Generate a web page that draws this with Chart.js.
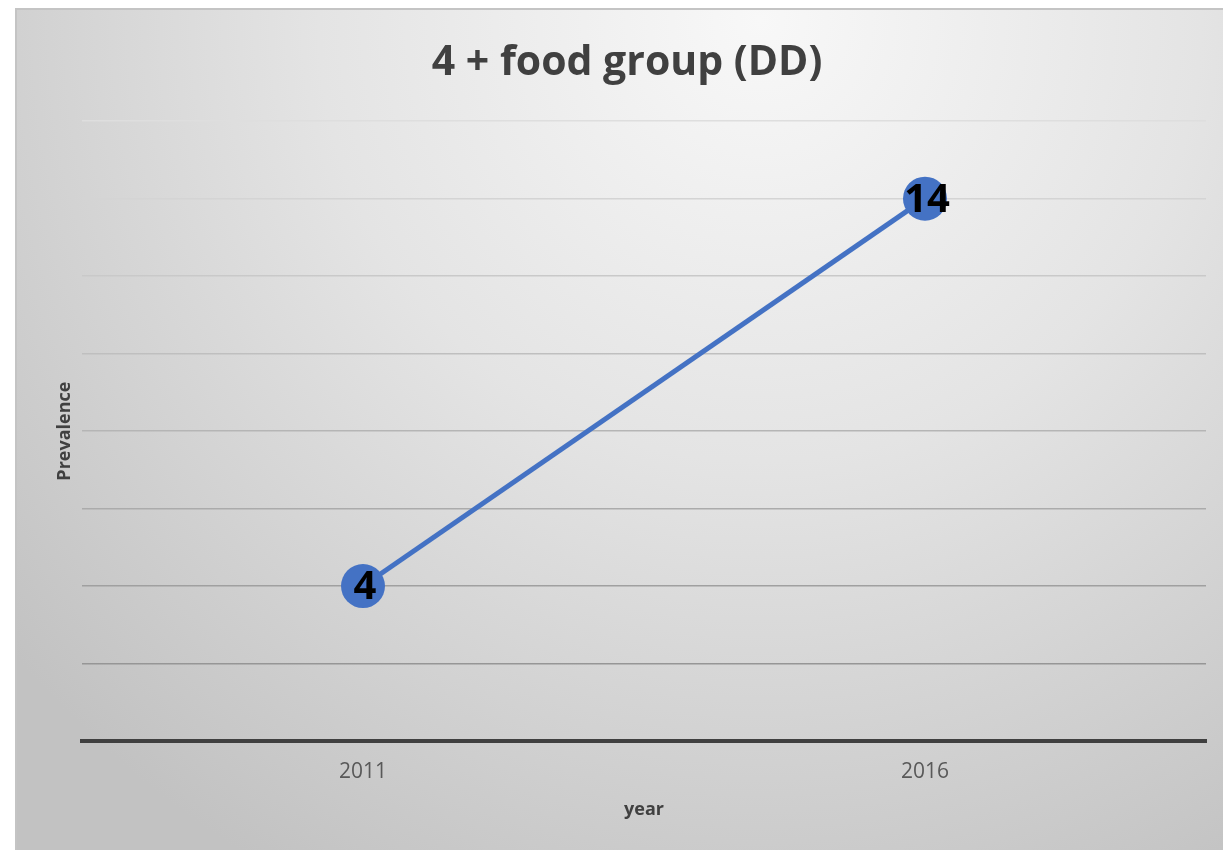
<!DOCTYPE html>
<html>
<head>
<meta charset="utf-8">
<title>4 + food group (DD)</title>
<script src="https://cdn.jsdelivr.net/npm/chart.js@4/dist/chart.umd.min.js"></script>
<style>
  html, body { margin: 0; padding: 0; background: #ffffff; }
  #wrap { position: relative; width: 1223px; height: 850px; }
</style>
</head>
<body>
<div id="wrap"><canvas id="chart" width="1223" height="850"></canvas></div>
<script>
// Chart data
const years = ['2011', '2016'];
const prevalence = [4, 14];
const yTicks = [0, 2, 4, 6, 8, 10, 12, 14, 16];

const chartTitle = '4 + food group (DD)';
const xTitle = 'year';
const yTitle = 'Prevalence';

const BLUE = '#4472C4';
const FONT = "'Open Sans', 'Liberation Sans', sans-serif";

// Soft grey radial backdrop inside a thin frame
const backdrop = {
  id: 'backdrop',
  beforeDraw(chart) {
    const { ctx, width, height } = chart;
    ctx.save();
    ctx.fillStyle = '#ffffff';
    ctx.fillRect(0, 0, width, height);
    const fx = 15, fy = 8;
    const g = ctx.createRadialGradient(760, 20, 0, 760, 20, 980);
    g.addColorStop(0, '#f8f8f8');
    g.addColorStop(0.45, '#e4e4e4');
    g.addColorStop(1, '#c2c2c2');
    ctx.fillStyle = g;
    ctx.fillRect(fx, fy, width - fx, height - fy);
    ctx.strokeStyle = '#c4c4c4';
    ctx.lineWidth = 2;
    ctx.beginPath();
    ctx.moveTo(fx + 1, height);
    ctx.lineTo(fx + 1, fy + 1);
    ctx.lineTo(width, fy + 1);
    ctx.stroke();
    ctx.restore();
  }
};

// Value labels written over each marker
const valueLabels = {
  id: 'valueLabels',
  afterDatasetsDraw(chart) {
    const { ctx } = chart;
    ctx.save();
    ctx.font = "bold 40px " + FONT;
    ctx.fillStyle = '#000000';
    ctx.textAlign = 'center';
    ctx.textBaseline = 'middle';
    chart.data.datasets.forEach((ds, di) => {
      const meta = chart.getDatasetMeta(di);
      meta.data.forEach((pt, i) => {
        ctx.fillText(String(ds.data[i]), pt.x + 2, pt.y + 2);
      });
    });
    ctx.restore();
  }
};

function gridShade(v) {
  // lines darken towards the base of the plot
  if (v === 0) return 'rgba(0,0,0,0)';
  const t = (v - 2) / 14;
  const c = Math.round(0x96 + t * (0xde - 0x96));
  return `rgb(${c},${c},${c})`;
}

new Chart(document.getElementById('chart'), {
  type: 'line',
  data: {
    labels: years,
    datasets: [{
      label: 'Prevalence',
      data: prevalence,
      borderColor: BLUE,
      backgroundColor: BLUE,
      borderWidth: 5,
      pointRadius: 22,
      pointHoverRadius: 22,
      pointBackgroundColor: BLUE,
      pointBorderWidth: 0,
      tension: 0
    }]
  },
  options: {
    responsive: false,
    animation: false,
    devicePixelRatio: 1,
    layout: { autoPadding: false, padding: { left: 48, right: 17, top: 8, bottom: 0 } },
    plugins: {
      legend: { display: false },
      tooltip: { enabled: false },
      title: {
        display: true,
        text: chartTitle,
        color: '#404040',
        font: { family: FONT, size: 41, weight: 'bold', lineHeight: 1.2 },
        padding: { top: 31, bottom: 33 }
      }
    },
    scales: {
      x: {
        offset: true,
        grid: { display: false, drawTicks: false },
        border: { display: true, color: '#404040', width: 4 },
        ticks: {
          color: '#595959',
          font: { family: FONT, size: 21 },
          padding: 18
        },
        title: {
          display: true,
          text: xTitle,
          color: '#404040',
          font: { family: FONT, size: 18, weight: 'bold', lineHeight: 1.2 },
          padding: { top: 0, bottom: 29 }
        },
        afterFit(scale) {
          scale.height = 109;
          scale.paddingLeft = 0;
          scale.paddingRight = 0;
        }
      },
      y: {
        min: 0,
        max: 16,
        afterBuildTicks(scale) { scale.ticks = yTicks.map(v => ({ value: v })); },
        ticks: { display: false },
        grid: {
          drawTicks: false,
          lineWidth: 1.5,
          color: ctx => gridShade(ctx.tick ? ctx.tick.value : 0)
        },
        border: { display: false },
        title: {
          display: true,
          text: yTitle,
          color: '#404040',
          font: { family: FONT, size: 18, weight: 'bold', lineHeight: 1.2 },
          padding: { top: 6, bottom: 0 }
        },
        afterFit(scale) {
          scale.width = 34;
          scale.paddingTop = 0;
          scale.paddingBottom = 0;
        }
      }
    }
  },
  plugins: [backdrop, valueLabels]
});
</script>
</body>
</html>
